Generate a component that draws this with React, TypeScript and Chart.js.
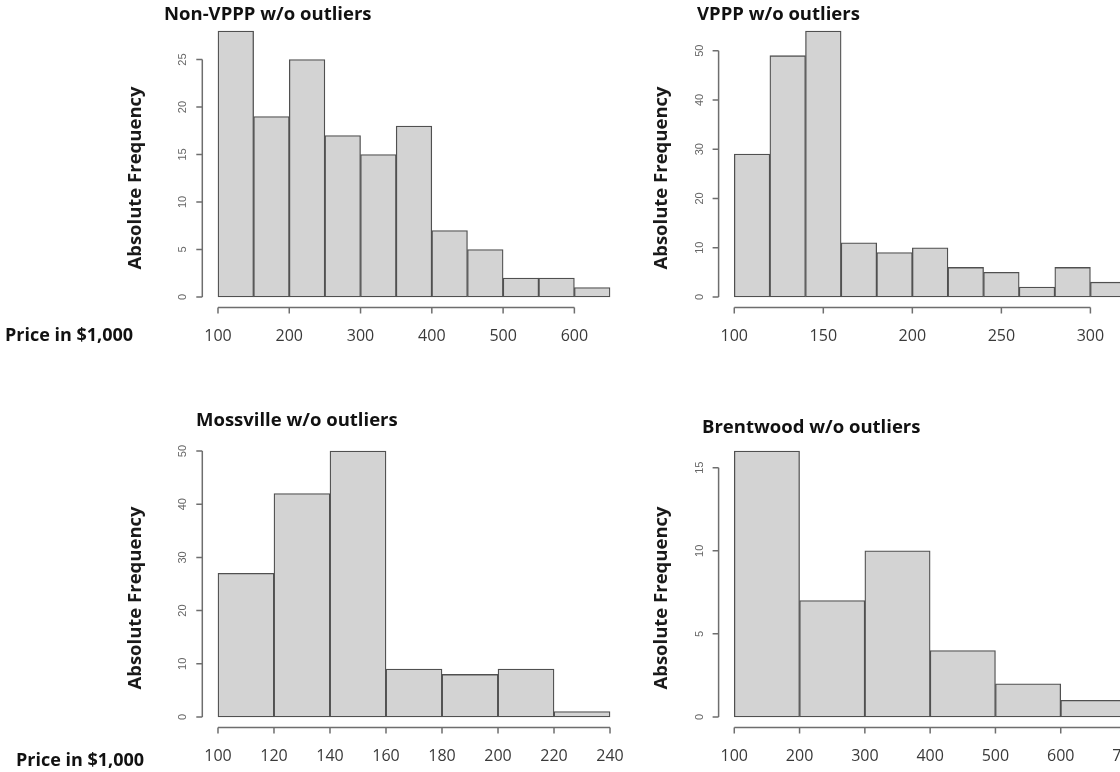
import React, { useEffect, useRef } from "react";
import { Chart, registerables } from "chart.js";

Chart.register(...registerables);

// ---------------- data ----------------
const nonVpppTitle = "Non-VPPP w/o outliers";
const nonVpppBreaks = [100, 150, 200, 250, 300, 350, 400, 450, 500, 550, 600, 650];
const nonVpppCounts = [28, 19, 25, 17, 15, 18, 7, 5, 2, 2, 1];
const nonVpppXTicks = [100, 200, 300, 400, 500, 600];
const nonVpppYTicks = [0, 5, 10, 15, 20, 25];

const vpppTitle = "VPPP w/o outliers";
const vpppBreaks = [100, 120, 140, 160, 180, 200, 220, 240, 260, 280, 300, 320];
const vpppCounts = [29, 49, 54, 11, 9, 10, 6, 5, 2, 6, 3];
const vpppXTicks = [100, 150, 200, 250, 300];
const vpppYTicks = [0, 10, 20, 30, 40, 50];

const mossTitle = "Mossville w/o outliers";
const mossBreaks = [100, 120, 140, 160, 180, 200, 220, 240];
const mossCounts = [27, 42, 50, 9, 8, 9, 1];
const mossXTicks = [100, 120, 140, 160, 180, 200, 220, 240];
const mossYTicks = [0, 10, 20, 30, 40, 50];

const brentTitle = "Brentwood w/o outliers";
const brentBreaks = [100, 200, 300, 400, 500, 600, 700];
const brentCounts = [16, 7, 10, 4, 2, 1];
const brentXTicks = [100, 200, 300, 400, 500, 600, 700];
const brentYTicks = [0, 5, 10, 15];

const yAxisTitle = "Absolute Frequency";
const xAxisTitle = "Price in $1,000";

// ---------------- layout / style ----------------
const PAGE_W = 1120;
const PAGE_H = 772;
const CANVAS_W = 1160;
const CANVAS_H = 772;

const BAR_FILL = "#d3d3d3";
const BAR_EDGE = "#505050";
const AXIS_COLOR = "#6e6e6e";
const TICK_LEN = 6;
const FONT_FAMILY = '"Open Sans", "Noto Sans", sans-serif';

type Box = { left: number; top: number; right: number; bottom: number };
type Panel = {
  title: string;
  breaks: number[];
  counts: number[];
  xTicks: number[];
  yTicks: number[];
  area: Box;
  titlePos: { x: number; y: number };
  yTitlePos: { x: number; y: number };
  xTitlePos?: { x: number; y: number };
};

const panels: Panel[] = [
  {
    title: nonVpppTitle,
    breaks: nonVpppBreaks,
    counts: nonVpppCounts,
    xTicks: nonVpppXTicks,
    yTicks: nonVpppYTicks,
    area: { left: 202.3, top: 20.4, right: 625.7, bottom: 307.6 },
    titlePos: { x: 164, y: 15 },
    yTitlePos: { x: 136, y: 178 },
    xTitlePos: { x: 5, y: 336 },
  },
  {
    title: vpppTitle,
    breaks: vpppBreaks,
    counts: vpppCounts,
    xTicks: vpppXTicks,
    yTicks: vpppYTicks,
    area: { left: 718.6, top: 20.4, right: 1141.7, bottom: 307.6 },
    titlePos: { x: 697, y: 15 },
    yTitlePos: { x: 662, y: 178 },
  },
  {
    title: mossTitle,
    breaks: mossBreaks,
    counts: mossCounts,
    xTicks: mossXTicks,
    yTicks: mossYTicks,
    area: { left: 202.3, top: 440.4, right: 625.7, bottom: 727.6 },
    titlePos: { x: 196, y: 421 },
    yTitlePos: { x: 136, y: 598 },
    xTitlePos: { x: 16, y: 761 },
  },
  {
    title: brentTitle,
    breaks: brentBreaks,
    counts: brentCounts,
    xTicks: brentXTicks,
    yTicks: brentYTicks,
    area: { left: 718.6, top: 440.4, right: 1141.7, bottom: 727.6 },
    titlePos: { x: 702, y: 428 },
    yTitlePos: { x: 662, y: 598 },
  },
];

function makeRPlugin(p: Panel) {
  return {
    id: "rStyleAxes",
    afterDraw(chart: any) {
      const ctx: CanvasRenderingContext2D = chart.ctx;
      const xs = chart.scales.x;
      const ys = chart.scales.y;
      const area = chart.chartArea;
      ctx.save();

      // x axis (R style: line spans first..last tick)
      ctx.strokeStyle = AXIS_COLOR;
      ctx.lineWidth = 1.5;
      const xPix = p.xTicks.map((v) => xs.getPixelForValue(v));
      const yb = area.bottom;
      ctx.beginPath();
      ctx.moveTo(xPix[0], yb);
      ctx.lineTo(xPix[xPix.length - 1], yb);
      xPix.forEach((px) => {
        ctx.moveTo(px, yb);
        ctx.lineTo(px, yb + TICK_LEN);
      });
      ctx.stroke();

      ctx.fillStyle = "#3a3a3a";
      ctx.font = `16px ${FONT_FAMILY}`;
      ctx.textAlign = "center";
      ctx.textBaseline = "middle";
      p.xTicks.forEach((v, i) => {
        ctx.fillText(String(v), xPix[i], yb + 29);
      });

      // y axis
      const yPix = p.yTicks.map((v) => ys.getPixelForValue(v));
      const xl = area.left;
      ctx.beginPath();
      ctx.moveTo(xl, yPix[0]);
      ctx.lineTo(xl, yPix[yPix.length - 1]);
      yPix.forEach((py) => {
        ctx.moveTo(xl, py);
        ctx.lineTo(xl - TICK_LEN, py);
      });
      ctx.stroke();

      ctx.fillStyle = "#666666";
      ctx.font = `11px "Liberation Sans", Arial, sans-serif`;
      p.yTicks.forEach((v, i) => {
        ctx.save();
        ctx.translate(xl - 19, yPix[i]);
        ctx.rotate(-Math.PI / 2);
        ctx.textAlign = "center";
        ctx.textBaseline = "middle";
        ctx.fillText(String(v), 0, 0);
        ctx.restore();
      });

      // title
      ctx.fillStyle = "#111111";
      ctx.font = `bold 18.5px ${FONT_FAMILY}`;
      ctx.textAlign = "left";
      ctx.textBaseline = "middle";
      ctx.fillText(p.title, p.titlePos.x, p.titlePos.y);

      // y axis title
      ctx.save();
      ctx.translate(p.yTitlePos.x, p.yTitlePos.y);
      ctx.rotate(-Math.PI / 2);
      ctx.textAlign = "center";
      ctx.textBaseline = "middle";
      ctx.font = `bold 18.5px ${FONT_FAMILY}`;
      ctx.fillStyle = "#1a1a1a";
      ctx.fillText(yAxisTitle, 0, 0);
      ctx.restore();

      // x axis caption
      if (p.xTitlePos) {
        ctx.font = `bold 18px ${FONT_FAMILY}`;
        ctx.fillStyle = "#111111";
        ctx.textAlign = "left";
        ctx.textBaseline = "middle";
        ctx.fillText(xAxisTitle, p.xTitlePos.x, p.xTitlePos.y);
      }
      ctx.restore();
    },
  };
}

function buildConfig(p: Panel): any {
  const first = p.breaks[0];
  const last = p.breaks[p.breaks.length - 1];
  const xExt = (last - first) * 0.04;
  const maxCount = Math.max(...p.counts);
  const yExt = maxCount * 0.04;
  const points = p.counts.map((c, i) => ({
    x: (p.breaks[i] + p.breaks[i + 1]) / 2,
    y: c,
  }));
  return {
    type: "bar",
    data: {
      datasets: [
        {
          data: points,
          backgroundColor: BAR_FILL,
          borderColor: BAR_EDGE,
          borderWidth: 1.3,
          borderSkipped: false,
          categoryPercentage: 1,
          barPercentage: 1,
        },
      ],
    },
    options: {
      responsive: false,
      maintainAspectRatio: false,
      animation: false,
      devicePixelRatio: 1,
      events: [],
      layout: {
        padding: {
          left: p.area.left,
          top: p.area.top,
          right: CANVAS_W - p.area.right,
          bottom: CANVAS_H - p.area.bottom,
        },
      },
      plugins: {
        legend: { display: false },
        tooltip: { enabled: false },
        title: { display: false },
      },
      scales: {
        x: {
          type: "linear",
          display: false,
          offset: false,
          min: first - xExt,
          max: last + xExt,
          afterBuildTicks: (s: any) => {
            s.ticks = p.xTicks.map((v) => ({ value: v }));
          },
        },
        y: {
          type: "linear",
          display: false,
          min: -yExt,
          max: maxCount + yExt,
          afterBuildTicks: (s: any) => {
            s.ticks = p.yTicks.map((v) => ({ value: v }));
          },
        },
      },
    },
    plugins: [makeRPlugin(p)],
  };
}

function PanelCanvas({ panel }: { panel: Panel }) {
  const ref = useRef<HTMLCanvasElement | null>(null);
  useEffect(() => {
    if (!ref.current) return;
    const chart = new Chart(ref.current, buildConfig(panel));
    return () => chart.destroy();
  }, [panel]);
  return (
    <canvas
      ref={ref}
      width={CANVAS_W}
      height={CANVAS_H}
      style={{ position: "absolute", left: 0, top: 0, width: CANVAS_W, height: CANVAS_H }}
    />
  );
}

export default function App() {
  return (
    <div
      style={{
        position: "absolute",
        left: 0,
        top: 0,
        width: PAGE_W,
        height: PAGE_H,
        overflow: "hidden",
        background: "#ffffff",
      }}
    >
      {panels.map((p, i) => (
        <PanelCanvas key={i} panel={p} />
      ))}
    </div>
  );
}
